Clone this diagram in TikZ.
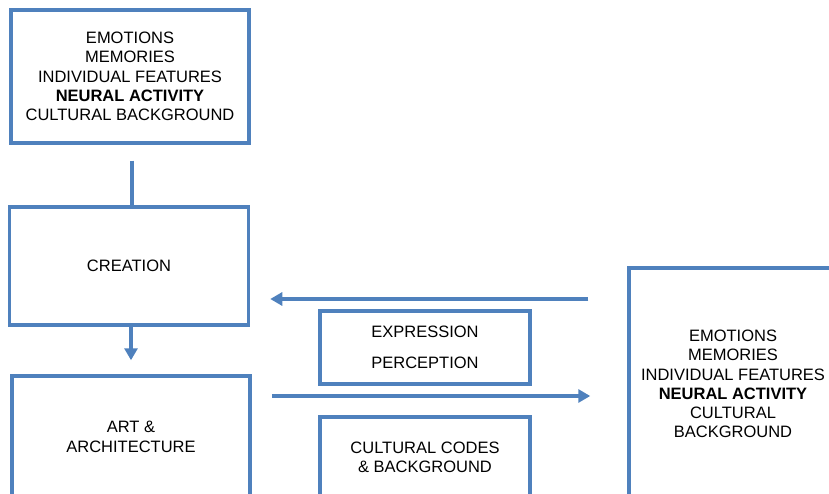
\documentclass[tikz,border=0pt]{standalone}
\usepackage{fontspec}
\setmainfont{Liberation Sans}
\usetikzlibrary{arrows.meta}

\definecolor{boxblue}{RGB}{79,129,189}
\tikzset{
	box/.style={draw=boxblue, line width=3.5pt, inner sep=0pt, align=center,
		font=\fontsize{16.5}{19.3}\selectfont},
	flow/.style={draw=boxblue, line width=4pt},
}

\begin{document}
\begin{tikzpicture}[x=1pt,y=-1pt,>={Triangle[length=12pt,width=13pt]}]
	\useasboundingbox (0,0) rectangle (829,494);
	\clip (0,0) rectangle (829,494);

	%left column
	\node[box, minimum width=238pt, minimum height=133pt] (brain1) at (130,76.5)
		{EMOTIONS\\MEMORIES\\INDIVIDUAL FEATURES\\\textbf{NEURAL ACTIVITY}\\CULTURAL BACKGROUND};
	\node[box, minimum width=239pt, minimum height=118pt] (creation) at (129,266) {CREATION};
	\node[box, minimum width=238pt, minimum height=122pt] (art) at (131,437) {ART \&\\ARCHITECTURE};

	%middle boxes
	\node[box, minimum width=210pt, minimum height=73pt] (express) at (425,347.5)
		{EXPRESSION\\[11.7pt]PERCEPTION};
	\node[box, minimum width=210pt, minimum height=80pt] (codes) at (425,457)
		{CULTURAL CODES\\\& BACKGROUND};

	%right box (cut by the frame)
	\node[box, minimum width=208pt, minimum height=232pt] (brain2) at (733,384)
		{EMOTIONS\\MEMORIES\\INDIVIDUAL FEATURES\\\textbf{NEURAL ACTIVITY}\\CULTURAL\\BACKGROUND};

	%vertical connectors
	\draw[flow, shorten <=16pt] (brain1.south -| 132,0) -- (creation.north -| 132,0);
	\draw[flow, ->, shorten >=14pt] (creation.south -| 131,0) -- (art.north -| 131,0);

	%horizontal arrows
	\draw[flow, ->, shorten <=39pt, shorten >=20pt] (brain2.west |- 0,299) -- (creation.east |- 0,299);
	\draw[flow, ->, shorten <=20pt, shorten >=37pt] (art.east |- 0,396) -- (brain2.west |- 0,396);
\end{tikzpicture}
\end{document}
